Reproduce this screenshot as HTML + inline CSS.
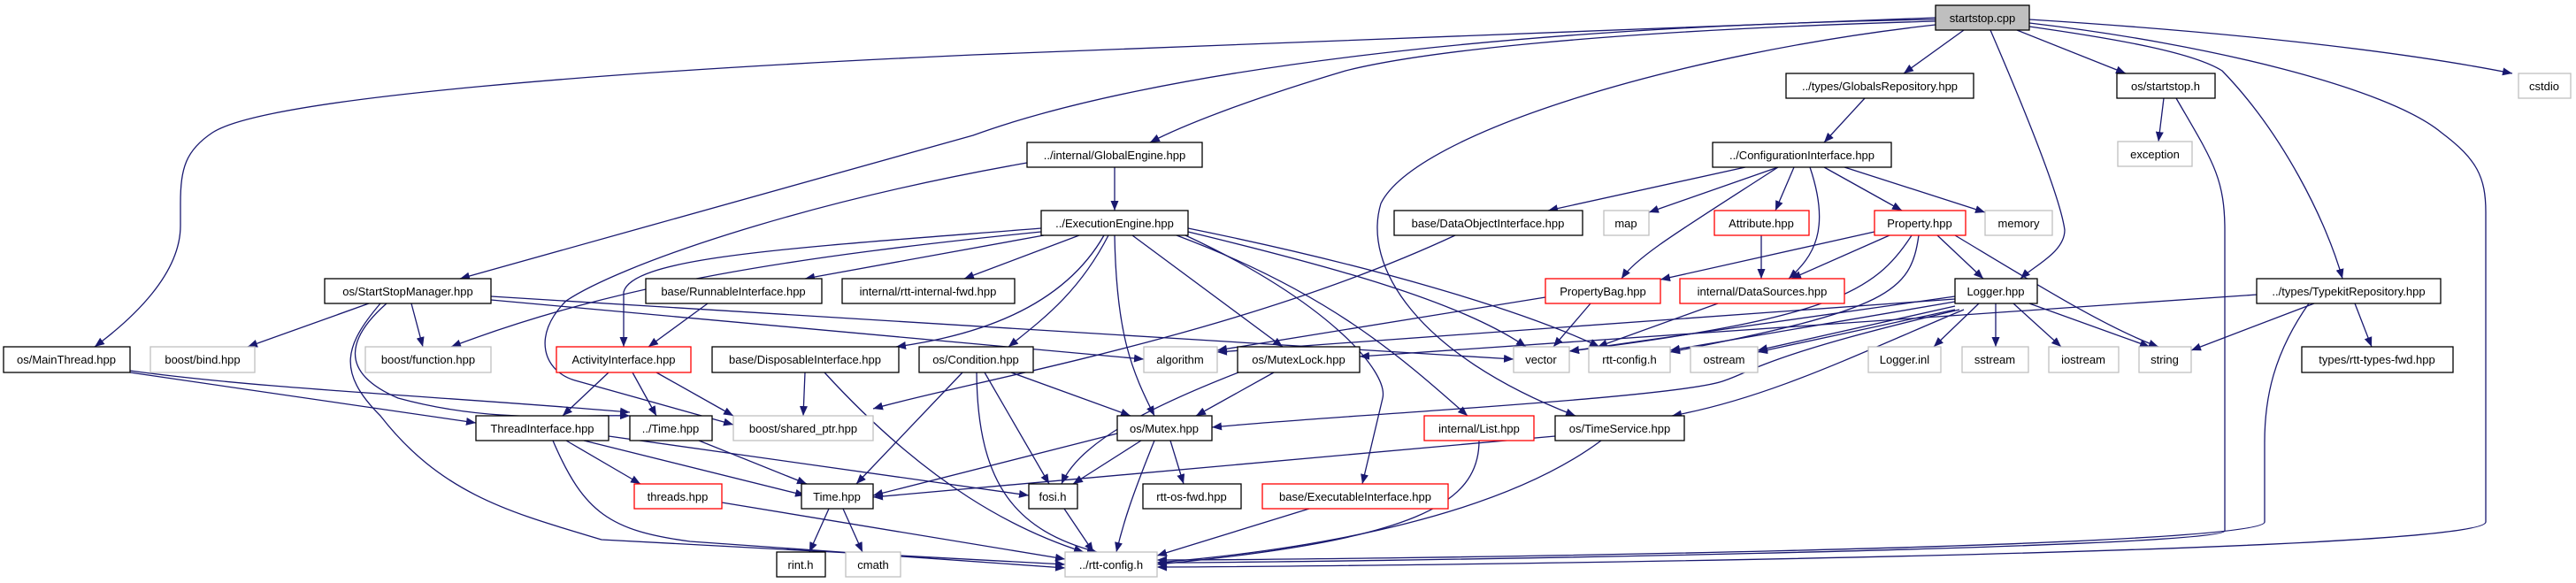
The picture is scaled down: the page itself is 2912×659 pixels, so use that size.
<!DOCTYPE html>
<html><head><meta charset="utf-8"><style>
html,body{margin:0;padding:0;background:#fff;}
svg{display:block;}
text{font-family:"Liberation Sans",sans-serif;font-size:13px;fill:#000;}
.e{fill:none;stroke:#191970;stroke-width:1.3;marker-end:url(#a);}
</style></head><body>
<svg width="2912" height="659" viewBox="0 0 2912 659" xmlns="http://www.w3.org/2000/svg">
<defs><marker id="a" markerUnits="userSpaceOnUse" markerWidth="12" markerHeight="9" refX="11" refY="4.5" orient="auto"><path d="M0,0 L11,4.5 L0,9 z" fill="#191970"/></marker></defs>
<g>
<path class="e" d="M2188,20 L1100,62 C700,80 300,110 240,150 C210,170 204,190 204,230 L204,255 C204,310 150,360 107,392"/>
<path class="e" d="M2188,22 C1700,30 1300,80 1100,153 L520,315"/>
<path class="e" d="M2188,24 C1800,35 1600,60 1521,80 C1420,110 1340,140 1300,161"/>
<path class="e" d="M2188,28 C1900,60 1600,150 1561,230 C1540,300 1600,400 1781,470"/>
<path class="e" d="M2220,34 L2152,83"/>
<path class="e" d="M2250,34 C2300,150 2330,230 2334,260 C2334,285 2300,300 2284,315"/>
<path class="e" d="M2280,34 L2403,83"/>
<path class="e" d="M2294,30 C2400,45 2480,60 2512,80 C2580,150 2630,250 2648,315"/>
<path class="e" d="M2294,22 C2500,35 2700,55 2840,83"/>
<path class="e" d="M2294,26 C2500,50 2700,100 2760,150 C2800,180 2810,200 2810,240 L2810,590 C2810,625 1600,640 1308,641"/>
<path class="e" d="M2108,111 L2062,161"/>
<path class="e" d="M2446,111 L2440,160"/>
<path class="e" d="M2460,111 C2500,180 2515,200 2515,260 L2515,600 C2515,620 1500,636 1308,636"/>
<path class="e" d="M2616,343 L2477,396"/>
<path class="e" d="M2662,343 L2681,392"/>
<path class="e" d="M2552,333 L1537,403"/>
<path class="e" d="M2610,343 C2570,400 2560,450 2560,500 L2560,590 C2560,620 1500,633 1308,633"/>
<path class="e" d="M1260,189 L1260,238"/>
<path class="e" d="M1161,184 C900,230 700,300 640,340 C600,380 615,420 650,430 L829,480"/>
<path class="e" d="M1973,189 L1750,238"/>
<path class="e" d="M2010,189 L1864,240"/>
<path class="e" d="M2010,189 C1900,260 1850,290 1833,315"/>
<path class="e" d="M2028,189 L2007,238"/>
<path class="e" d="M2046,189 C2070,260 2050,290 2022,315"/>
<path class="e" d="M2062,189 L2150,238"/>
<path class="e" d="M2085,189 L2244,240"/>
<path class="e" d="M1645,266 C1400,380 1100,430 987,462"/>
<path class="e" d="M1991,266 L1991,315"/>
<path class="e" d="M2119,262 L1877,316"/>
<path class="e" d="M2136,266 L2025,315"/>
<path class="e" d="M2190,266 L2242,315"/>
<path class="e" d="M2210,266 C2300,320 2380,370 2440,392"/>
<path class="e" d="M2161,266 C2120,330 2069,360 1774,397"/>
<path class="e" d="M2169,266 C2160,330 2136,350 1888,398"/>
<path class="e" d="M1798,343 L1756,392"/>
<path class="e" d="M1747,336 L1376,396"/>
<path class="e" d="M1942,343 L1806,392"/>
<path class="e" d="M2237,343 L2186,392"/>
<path class="e" d="M2256,343 L2256,392"/>
<path class="e" d="M2276,343 L2330,392"/>
<path class="e" d="M2294,343 L2430,392"/>
<path class="e" d="M2210,346 L1987,396"/>
<path class="e" d="M2210,350 L1987,398"/>
<path class="e" d="M2210,341 L1888,396"/>
<path class="e" d="M2210,335 L1774,397"/>
<path class="e" d="M2210,338 L1376,398"/>
<path class="e" d="M2215,350 C2000,400 1980,420 1950,430 C1900,450 1500,470 1370,483"/>
<path class="e" d="M2220,350 C2100,400 2000,450 1890,470"/>
<path class="e" d="M1177,258 C900,280 715,290 705,330 L705,392"/>
<path class="e" d="M1177,262 C900,290 700,320 510,392"/>
<path class="e" d="M1180,266 L910,315"/>
<path class="e" d="M1220,266 L1090,315"/>
<path class="e" d="M1248,266 C1200,350 1100,380 1013,392"/>
<path class="e" d="M1253,266 C1220,330 1180,360 1140,392"/>
<path class="e" d="M1260,266 C1262,380 1280,420 1305,470"/>
<path class="e" d="M1280,266 L1450,392"/>
<path class="e" d="M1343,262 C1500,300 1650,340 1725,392"/>
<path class="e" d="M1343,258 C1550,300 1720,350 1808,392"/>
<path class="e" d="M1330,266 C1500,330 1580,400 1659,470"/>
<path class="e" d="M1340,266 C1500,340 1570,420 1563,450 L1540,547"/>
<path class="e" d="M417,343 L280,392"/>
<path class="e" d="M465,343 L478,392"/>
<path class="e" d="M437,343 C395,380 380,420 450,450 C560,480 650,468 712,470"/>
<path class="e" d="M430,343 C390,390 380,420 430,470 C500,560 580,580 680,610 L1204,638"/>
<path class="e" d="M555,335 L1711,406"/>
<path class="e" d="M555,339 L1293,406"/>
<path class="e" d="M147,421 L538,478"/>
<path class="e" d="M147,419 C300,440 500,448 712,466"/>
<path class="e" d="M800,343 L733,392"/>
<path class="e" d="M688,421 L636,470"/>
<path class="e" d="M715,421 L742,470"/>
<path class="e" d="M742,421 L829,470"/>
<path class="e" d="M910,421 L908,470"/>
<path class="e" d="M932,421 C1050,550 1150,600 1225,624"/>
<path class="e" d="M1088,421 L968,547"/>
<path class="e" d="M1113,421 L1186,547"/>
<path class="e" d="M1143,421 L1278,470"/>
<path class="e" d="M1104,421 C1105,550 1150,600 1240,624"/>
<path class="e" d="M1440,421 L1352,470"/>
<path class="e" d="M1400,421 C1300,460 1220,500 1200,547"/>
<path class="e" d="M1263,490 L987,560"/>
<path class="e" d="M1290,498 L1213,547"/>
<path class="e" d="M1323,498 L1338,547"/>
<path class="e" d="M1305,498 C1280,560 1270,590 1262,624"/>
<path class="e" d="M660,498 L910,560"/>
<path class="e" d="M688,493 L1163,560"/>
<path class="e" d="M640,498 L724,547"/>
<path class="e" d="M625,498 C660,580 690,600 780,612 L1204,642"/>
<path class="e" d="M790,498 L912,547"/>
<path class="e" d="M816,568 L1204,632"/>
<path class="e" d="M937,575 L915,624"/>
<path class="e" d="M953,575 L975,624"/>
<path class="e" d="M1203,575 L1236,624"/>
<path class="e" d="M1480,575 L1308,628"/>
<path class="e" d="M1672,498 C1672,570 1600,610 1308,638"/>
<path class="e" d="M1758,493 L987,562"/>
<path class="e" d="M1810,498 C1700,580 1500,620 1308,636"/>
</g>
<g stroke-width="1.3" fill="#fff">
<g stroke="#000">
<rect x="2188" y="6" width="106" height="28" fill="#bfbfbf"/>
<rect x="2019" y="83" width="212" height="28"/>
<rect x="2393" y="83" width="111" height="28"/>
<rect x="1161" y="161" width="198" height="28"/>
<rect x="1936" y="161" width="202" height="28"/>
<rect x="1177" y="238" width="166" height="28"/>
<rect x="1576" y="238" width="213" height="28"/>
<rect x="367" y="315" width="188" height="28"/>
<rect x="730" y="315" width="199" height="28"/>
<rect x="952" y="315" width="195" height="28"/>
<rect x="2210" y="315" width="93" height="28"/>
<rect x="2551" y="315" width="208" height="28"/>
<rect x="4" y="392" width="143" height="29"/>
<rect x="805" y="392" width="211" height="29"/>
<rect x="1039" y="392" width="129" height="29"/>
<rect x="1399" y="392" width="138" height="29"/>
<rect x="2602" y="392" width="171" height="29"/>
<rect x="538" y="470" width="150" height="28"/>
<rect x="712" y="470" width="93" height="28"/>
<rect x="1263" y="470" width="107" height="28"/>
<rect x="1758" y="470" width="146" height="28"/>
<rect x="906" y="547" width="81" height="28"/>
<rect x="1163" y="547" width="55" height="28"/>
<rect x="1292" y="547" width="111" height="28"/>
<rect x="878" y="624" width="55" height="28"/>
</g>
<g stroke="#bfbfbf">
<rect x="2847" y="83" width="59" height="28"/>
<rect x="2394" y="160" width="84" height="28"/>
<rect x="1813" y="238" width="51" height="28"/>
<rect x="2244" y="238" width="76" height="28"/>
<rect x="170" y="392" width="118" height="29"/>
<rect x="413" y="392" width="142" height="29"/>
<rect x="1293" y="392" width="83" height="29"/>
<rect x="1711" y="392" width="63" height="29"/>
<rect x="1796" y="392" width="92" height="29"/>
<rect x="1911" y="392" width="76" height="29"/>
<rect x="2112" y="392" width="82" height="29"/>
<rect x="2218" y="392" width="75" height="29"/>
<rect x="2316" y="392" width="79" height="29"/>
<rect x="2418" y="392" width="59" height="29"/>
<rect x="829" y="470" width="158" height="28"/>
<rect x="956" y="624" width="62" height="28"/>
<rect x="1204" y="624" width="104" height="28"/>
</g>
<g stroke="#ff0000">
<rect x="1938" y="238" width="107" height="28"/>
<rect x="2119" y="238" width="103" height="28"/>
<rect x="1747" y="315" width="130" height="28"/>
<rect x="1899" y="315" width="186" height="28"/>
<rect x="629" y="392" width="152" height="29"/>
<rect x="1610" y="470" width="124" height="28"/>
<rect x="717" y="547" width="99" height="28"/>
<rect x="1427" y="547" width="210" height="28"/>
</g>
</g>
<g text-anchor="middle">
<text x="2241" y="25">startstop.cpp</text>
<text x="2125" y="102">../types/GlobalsRepository.hpp</text>
<text x="2448" y="102">os/startstop.h</text>
<text x="2876" y="102">cstdio</text>
<text x="1260" y="180">../internal/GlobalEngine.hpp</text>
<text x="2037" y="180">../ConfigurationInterface.hpp</text>
<text x="2436" y="179">exception</text>
<text x="1260" y="257">../ExecutionEngine.hpp</text>
<text x="1682" y="257">base/DataObjectInterface.hpp</text>
<text x="1838" y="257">map</text>
<text x="1991" y="257">Attribute.hpp</text>
<text x="2170" y="257">Property.hpp</text>
<text x="2282" y="257">memory</text>
<text x="461" y="334">os/StartStopManager.hpp</text>
<text x="829" y="334">base/RunnableInterface.hpp</text>
<text x="1049" y="334">internal/rtt-internal-fwd.hpp</text>
<text x="1812" y="334">PropertyBag.hpp</text>
<text x="1992" y="334">internal/DataSources.hpp</text>
<text x="2256" y="334">Logger.hpp</text>
<text x="2655" y="334">../types/TypekitRepository.hpp</text>
<text x="75" y="411">os/MainThread.hpp</text>
<text x="229" y="411">boost/bind.hpp</text>
<text x="484" y="411">boost/function.hpp</text>
<text x="705" y="411">ActivityInterface.hpp</text>
<text x="910" y="411">base/DisposableInterface.hpp</text>
<text x="1103" y="411">os/Condition.hpp</text>
<text x="1334" y="411">algorithm</text>
<text x="1468" y="411">os/MutexLock.hpp</text>
<text x="1742" y="411">vector</text>
<text x="1842" y="411">rtt-config.h</text>
<text x="1949" y="411">ostream</text>
<text x="2153" y="411">Logger.inl</text>
<text x="2255" y="411">sstream</text>
<text x="2355" y="411">iostream</text>
<text x="2447" y="411">string</text>
<text x="2687" y="411">types/rtt-types-fwd.hpp</text>
<text x="613" y="489">ThreadInterface.hpp</text>
<text x="758" y="489">../Time.hpp</text>
<text x="908" y="489">boost/shared_ptr.hpp</text>
<text x="1316" y="489">os/Mutex.hpp</text>
<text x="1672" y="489">internal/List.hpp</text>
<text x="1831" y="489">os/TimeService.hpp</text>
<text x="766" y="566">threads.hpp</text>
<text x="946" y="566">Time.hpp</text>
<text x="1190" y="566">fosi.h</text>
<text x="1347" y="566">rtt-os-fwd.hpp</text>
<text x="1532" y="566">base/ExecutableInterface.hpp</text>
<text x="905" y="643">rint.h</text>
<text x="987" y="643">cmath</text>
<text x="1256" y="643">../rtt-config.h</text>
</g>
</svg>
</body></html>
